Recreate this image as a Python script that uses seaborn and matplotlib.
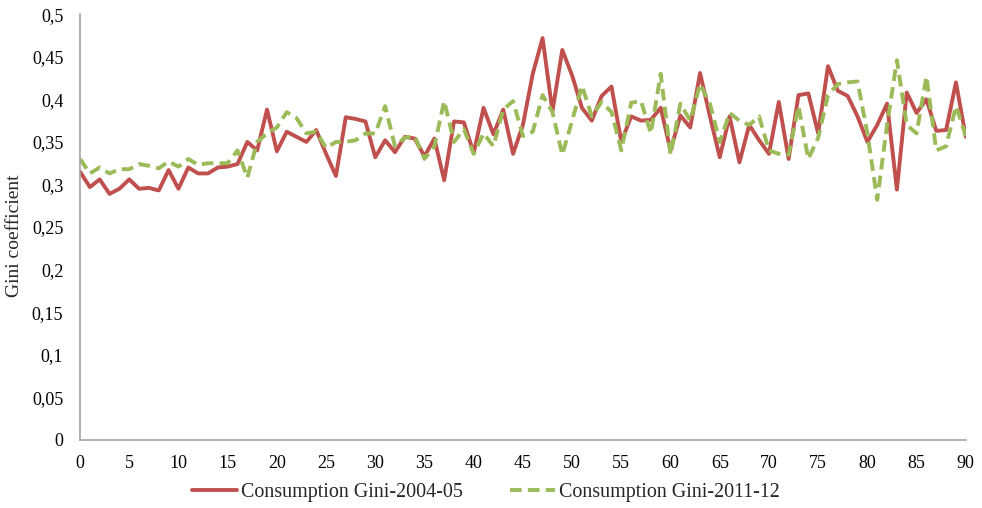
import matplotlib
matplotlib.use("Agg")
import matplotlib.pyplot as plt
import matplotlib.ticker as mticker
import numpy as np
import pandas as pd
import seaborn as sns

# Age (years) on the x axis
age = list(range(0, 91))

gini_2004 = [
    0.315, 0.297, 0.306, 0.289, 0.295, 0.306, 0.295, 0.296, 0.293, 0.317,
    0.295, 0.320, 0.313, 0.313, 0.320, 0.321, 0.324, 0.350, 0.340, 0.388,
    0.339, 0.362, 0.356, 0.350, 0.364, 0.336, 0.310, 0.379, 0.377, 0.374,
    0.332, 0.352, 0.338, 0.356, 0.354, 0.333, 0.354, 0.305, 0.374, 0.373,
    0.337, 0.390, 0.359, 0.388, 0.336, 0.370, 0.430, 0.472, 0.386, 0.458,
    0.428, 0.390, 0.375, 0.404, 0.415, 0.350, 0.380, 0.375, 0.376, 0.390,
    0.340, 0.381, 0.367, 0.431, 0.380, 0.332, 0.380, 0.326, 0.370, 0.352,
    0.336, 0.397, 0.330, 0.405, 0.407, 0.360, 0.439, 0.410, 0.404, 0.380,
    0.350, 0.370, 0.395, 0.294, 0.408, 0.384, 0.400, 0.363, 0.364, 0.420,
    0.356,
]

gini_2011 = [
    0.330, 0.313, 0.320, 0.313, 0.318, 0.318, 0.324, 0.322, 0.319, 0.327,
    0.321, 0.330, 0.323, 0.325, 0.325, 0.325, 0.340, 0.308, 0.350, 0.360,
    0.367, 0.385, 0.378, 0.360, 0.362, 0.343, 0.350, 0.350, 0.352, 0.360,
    0.360, 0.392, 0.345, 0.355, 0.357, 0.330, 0.345, 0.398, 0.350, 0.365,
    0.336, 0.360, 0.345, 0.388, 0.398, 0.357, 0.362, 0.405, 0.385, 0.335,
    0.375, 0.416, 0.380, 0.397, 0.385, 0.340, 0.396, 0.398, 0.360, 0.430,
    0.335, 0.395, 0.375, 0.418, 0.395, 0.350, 0.384, 0.375, 0.370, 0.380,
    0.340, 0.336, 0.335, 0.392, 0.330, 0.355, 0.405, 0.418, 0.420, 0.421,
    0.360, 0.282, 0.370, 0.446, 0.370, 0.360, 0.427, 0.340, 0.345, 0.392,
    0.357,
]

series_names = ["Consumption Gini-2004-05", "Consumption Gini-2011-12"]
y_ticks = [0, 0.05, 0.1, 0.15, 0.2, 0.25, 0.3, 0.35, 0.4, 0.45, 0.5]
x_ticks = list(range(0, 91, 5))

df = pd.DataFrame({
    "age": age * 2,
    "gini": gini_2004 + gini_2011,
    "series": [series_names[0]] * len(age) + [series_names[1]] * len(age),
})

sns.set_theme(style="white")
plt.rcParams["font.family"] = ["Liberation Serif", "DejaVu Serif"]

fig = plt.figure(figsize=(9.82, 5.08), dpi=100)
ax = fig.add_axes([0.0815, 0.134, 0.902, 0.838])

palette = {series_names[0]: "#C0504D", series_names[1]: "#9BBB59"}
sns.lineplot(data=df, x="age", y="gini", hue="series", style="series",
             palette=palette,
             dashes={series_names[0]: "", series_names[1]: (3, 1.6)},
             linewidth=2.8, ax=ax, legend=False)

ax.set_xlim(0, 90)
ax.set_ylim(0, 0.5)
ax.set_xticks(x_ticks)
ax.set_yticks(y_ticks)
ax.yaxis.set_major_formatter(mticker.FuncFormatter(
    lambda v, _: ("%g" % round(v, 2)).replace(".", ",")))
ax.tick_params(axis="both", labelsize=13, length=0, colors="#000000")
ax.tick_params(axis="y", pad=12)
ax.tick_params(axis="x", pad=11)
ax.set_xlabel("")
ax.set_ylabel("Gini coefficient", fontsize=14)
ax.yaxis.set_label_coords(-0.064, 0.48)

for side in ("top", "right"):
    ax.spines[side].set_visible(False)
for side in ("left", "bottom"):
    ax.spines[side].set_color("#A6A6A6")
    ax.spines[side].set_linewidth(1.2)

handles = [
    plt.Line2D([], [], color="#C0504D", lw=2.8),
    plt.Line2D([], [], color="#9BBB59", lw=2.8, dashes=(3, 1.6)),
]
fig.legend(handles, series_names, loc="center", bbox_to_anchor=(0.4944, 0.031),
           ncol=2, frameon=False, fontsize=14.4, handlelength=2.25,
           handletextpad=0.2, columnspacing=2.35)

fig.savefig("out.png", dpi=100)
